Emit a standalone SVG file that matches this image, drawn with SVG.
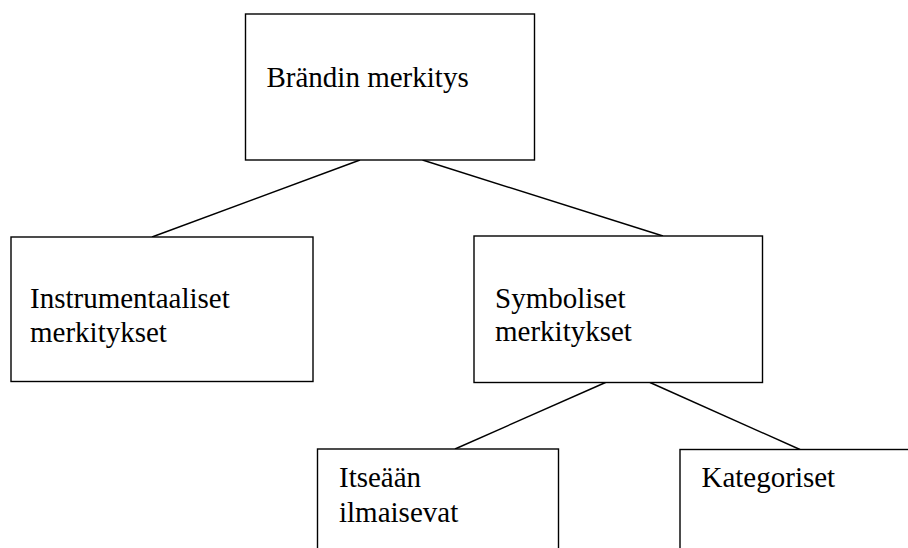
<svg xmlns="http://www.w3.org/2000/svg" width="908" height="548" viewBox="0 0 908 548">
<style>
.box{fill:#fff;stroke:#000;stroke-width:1.4}
.lbl{font-family:"Liberation Serif","Times New Roman",serif;font-size:29px;fill:#000}
.conn line{stroke:#000;stroke-width:1.4}
</style>
<rect width="908" height="548" fill="#fff"/>
<g id="connectors" class="conn">
<line x1="360" y1="160" x2="152" y2="237"/>
<line x1="422.5" y1="160" x2="663" y2="236"/>
<line x1="605.5" y1="382.5" x2="455" y2="449"/>
<line x1="650" y1="382.5" x2="800" y2="449.5"/>
</g>
<g id="brandin-merkitys">
<rect class="box" x="245.5" y="14" width="289" height="146"/>
<text class="lbl" x="266.5" y="87">Brändin merkitys</text>
</g>
<g id="instrumentaaliset">
<rect class="box" x="11" y="237" width="302" height="144.5"/>
<text class="lbl" x="30" y="308">Instrumentaaliset</text>
<text class="lbl" x="30" y="342">merkitykset</text>
</g>
<g id="symboliset">
<rect class="box" x="474" y="236" width="288.5" height="146.5"/>
<text class="lbl" x="495" y="308">Symboliset</text>
<text class="lbl" x="495" y="341">merkitykset</text>
</g>
<g id="itseaan">
<rect class="box" x="317.5" y="449" width="241" height="120"/>
<text class="lbl" x="339" y="487">Itseään</text>
<text class="lbl" x="339" y="522">ilmaisevat</text>
</g>
<g id="kategoriset">
<rect class="box" x="680" y="449.5" width="260" height="120"/>
<text class="lbl" x="701.5" y="487">Kategoriset</text>
</g>
</svg>
